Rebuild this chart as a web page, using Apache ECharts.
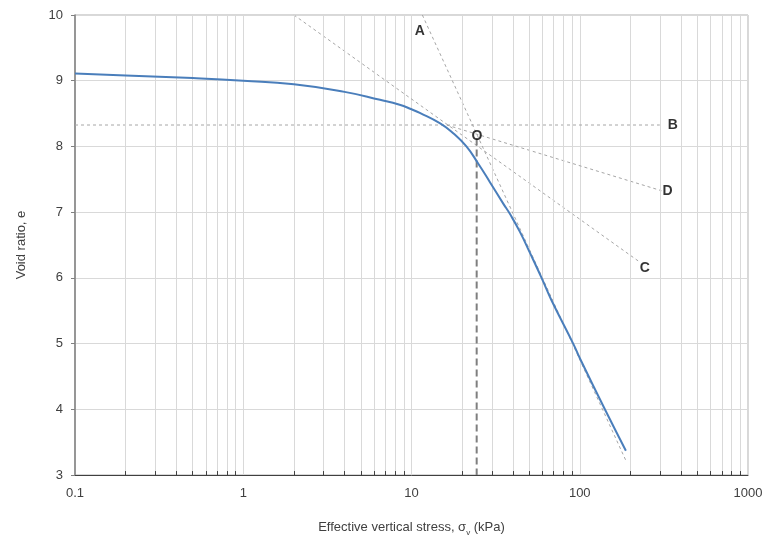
<!DOCTYPE html>
<html><head><meta charset="utf-8">
<script src="https://cdn.jsdelivr.net/npm/echarts@6/dist/echarts.min.js"></script>
<style>html,body{margin:0;padding:0;background:#fff}#c{width:765px;height:537px}</style>
</head><body><div id="c"></div>
<script>
// Consolidation curve
const stress = [0.1, 0.2, 0.5, 1, 2, 4, 6.5, 8.5, 10, 11.2, 14.8, 17.7, 21.2, 24.9, 29.2, 35.1, 38.5, 44.1, 50.6, 59.3, 67.9, 91.4, 100, 141, 188];
const voidRatio = [9.11, 9.08, 9.04, 9.0, 8.945, 8.83, 8.71, 8.635, 8.565, 8.51, 8.35, 8.2, 8.0, 7.74, 7.46, 7.13, 6.97, 6.7, 6.38, 6.0, 5.66, 5.0, 4.78, 4.0, 3.37];
// Casagrande construction lines
const lineAx = [11.6, 188], lineAy = [10, 3.22];       // extension of virgin compression line
const lineBx = [0.1, 299], lineBy = [8.326, 8.326];     // horizontal
const lineCx = [2, 227.5], lineCy = [10, 6.24];         // tangent
const lineDx = [16.2, 306], lineDy = [8.326, 7.326];    // bisector
const preconX = [24.4, 24.4], preconY = [8.12, 3];       // preconsolidation stress
// Annotation labels
const labelNames = ['A', 'B', 'C', 'D', 'O'];
const labelX = [11.2, 357, 244, 333, 24.5];
const labelY = [9.76, 8.326, 6.15, 7.32, 8.16];
// Axes
const xMin = 0.1, xMax = 1000, yMin = 3, yMax = 10;
const decades = [0.1, 1, 10, 100];
const minorMult = [2, 3, 4, 5, 6, 7, 8, 9];

const FONT = "'Liberation Sans', Arial, sans-serif";
const minorVals = [];
decades.forEach(d => minorMult.forEach(m => minorVals.push(+(d * m).toPrecision(6))));

const zip = (xs, ys) => xs.map((x, i) => [x, ys[i]]);
const dashed = (xs, ys) => ({
  type: 'line', data: zip(xs, ys), symbol: 'none', silent: true, z: 2,
  lineStyle: { color: '#a6a6a6', width: 1, type: [3, 3] }
});

const chart = echarts.init(document.getElementById('c'), null, { renderer: 'canvas' });
chart.setOption({
  animation: false,
  backgroundColor: '#fff',
  textStyle: { fontFamily: FONT },
  grid: { left: 75, right: 17, top: 15, bottom: 62, outerBoundsMode: 'none', containLabel: false,
    show: true, borderColor: '#b0b0b0', borderWidth: 1 },
  xAxis: {
    type: 'log', logBase: 10, min: xMin, max: xMax,
    name: '{a|Effective vertical stress, σ}{s|v}{a| (kPa)}',
    nameLocation: 'middle', nameGap: 43,
    nameTextStyle: {
      rich: {
        a: { fontFamily: FONT, fontSize: 13, color: '#404040', lineHeight: 16, verticalAlign: 'bottom' },
        s: { fontFamily: FONT, fontSize: 8, color: '#404040', lineHeight: 16, verticalAlign: 'bottom', padding: [0, 0, -3, 0] }
      }
    },
    axisLine: { show: true, lineStyle: { color: '#404040', width: 1 } },
    axisTick: { show: false },
    axisLabel: { color: '#404040', fontSize: 13, fontFamily: FONT, margin: 12,
      formatter: v => String(+(+v).toPrecision(6)) },
    splitLine: { show: true, lineStyle: { color: '#d9d9d9', width: 1 } }
  },
  yAxis: {
    type: 'value', min: yMin, max: yMax, interval: 1,
    name: 'Void ratio, e', nameLocation: 'middle', nameGap: 47,
    nameTextStyle: { fontFamily: FONT, fontSize: 13, color: '#404040' },
    axisLine: { show: true, lineStyle: { color: '#808080', width: 1.5 } },
    axisTick: { show: true, length: 4, inside: false, lineStyle: { color: '#808080' } },
    axisLabel: { color: '#404040', fontSize: 13, fontFamily: FONT, margin: 12 },
    splitLine: { show: true, lineStyle: { color: '#d9d9d9', width: 1 } }
  },
  series: [
    {
      type: 'line', data: [], silent: true, z: 1,
      markLine: {
        silent: true, symbol: 'none', animation: false, label: { show: false },
        lineStyle: { color: '#d9d9d9', width: 1, type: 'solid' },
        data: minorVals.map(v => ({ xAxis: v }))
      }
    },
    {
      type: 'line', data: [], silent: true, z: 4,
      markLine: {
        silent: true, symbol: 'none', animation: false, label: { show: false },
        lineStyle: { color: '#404040', width: 1, type: 'solid' },
        data: minorVals.map(v => [{ coord: [v, yMin] }, { coord: [v, yMin + 0.06] }])
      }
    },
    dashed(lineAx, lineAy),
    dashed(lineBx, lineBy),
    dashed(lineCx, lineCy),
    dashed(lineDx, lineDy),
    {
      type: 'line', data: zip(preconX, preconY), symbol: 'none', silent: true, z: 3,
      lineStyle: { color: '#7f7f7f', width: 2, type: [7, 4] }
    },
    {
      type: 'line', data: zip(stress, voidRatio), symbol: 'none', smooth: 0.5, z: 5,
      lineStyle: { color: '#4a7ebb', width: 2 }
    },
    {
      type: 'scatter', symbolSize: 0, z: 6, silent: true,
      data: labelNames.map((n, i) => ({ name: n, value: [labelX[i], labelY[i]] })),
      label: { show: true, position: 'inside', formatter: p => p.name,
        fontFamily: FONT, fontSize: 14, fontWeight: 'bold', color: '#000' }
    }
  ]
});
</script></body></html>
